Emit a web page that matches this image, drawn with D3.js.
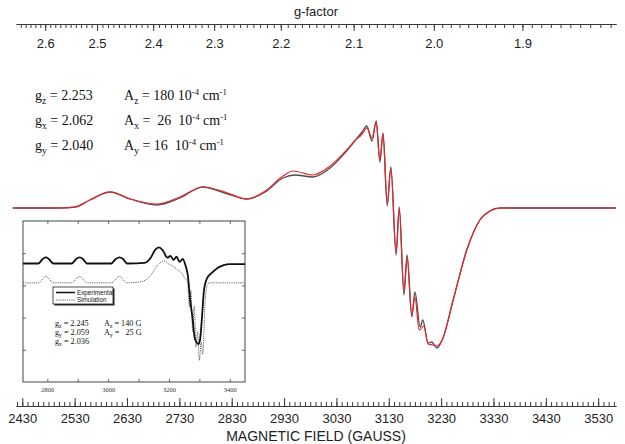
<!DOCTYPE html>
<html><head><meta charset="utf-8">
<script src="https://cdn.jsdelivr.net/npm/d3@7"></script>
<style>
body{margin:0;background:#fff}
svg{display:block}
text{white-space:pre}
</style>
</head><body>
<script>
// ---------- data ----------
const G_TIMES_B = 6432; // g * B(G) at ~9.0 GHz
const fieldTicks = [2430,2530,2630,2730,2830,2930,3030,3130,3230,3330,3430,3530];
const gTicks = [2.6,2.5,2.4,2.3,2.2,2.1,2.0,1.9];

const fieldExp  = [2412,2502,2531,2559,2598,2636,2687,2731,2775,2817,2859,2894,2928,2951,2985,3018,3046,3065,3079,3088,3098,3106,3113,3119,3127,3134,3144,3150,3159,3165,3174,3180,3190,3195,3205,3212,3222,3232,3253,3279,3304,3323,3342,3564];
const signalExp = [0,0,0.01,0.08,0.16,0.09,0.03,0.10,0.21,0.15,0.09,0.16,0.30,0.33,0.31,0.40,0.55,0.67,0.76,0.82,0.67,0.87,0.46,0.75,0.02,0.41,-0.47,0.01,-0.87,-0.47,-1.09,-0.84,-1.19,-1.12,-1.35,-1.34,-1.40,-1.32,-0.92,-0.42,-0.12,-0.03,0,0];
const fieldSim  = [2412,2502,2531,2559,2598,2636,2687,2731,2775,2817,2859,2894,2928,2947,2985,3018,3046,3065,3079,3088,3098,3106,3113,3119,3127,3134,3144,3150,3159,3165,3174,3180,3188,3197,3205,3214,3222,3232,3253,3279,3304,3323,3342,3564];
const signalSim = [0,0,0.01,0.08,0.16,0.09,0.04,0.11,0.21,0.16,0.09,0.17,0.32,0.37,0.33,0.42,0.56,0.67,0.74,0.80,0.70,0.86,0.48,0.74,0.05,0.40,-0.44,-0.01,-0.82,-0.50,-1.07,-0.89,-1.22,-1.18,-1.36,-1.37,-1.38,-1.32,-0.92,-0.42,-0.12,-0.03,0,0];

const paramG = [["g","z"," = 2.253"],["g","x"," = 2.062"],["g","y"," = 2.040"]];
const paramA = [["A","z"," = 180 10","-4"," cm","-1"],["A","x"," =  26  10","-4"," cm","-1"],["A","y"," = 16  10","-4"," cm","-1"]];

// inset
const insetTicks = [2800,2900,3000,3100,3200,3300,3400];
const insetTickLabels = [2800,3000,3200,3400];
const insetFieldExp  = [2720,2770,2785,2795,2805,2820,2880,2895,2906,2917,2930,3010,3025,3037,3049,3062,3120,3140,3155,3167,3180,3195,3205,3215,3225,3235,3245,3255,3262,3270,3278,3284,3290,3297,3302,3308,3315,3325,3340,3360,3380,3400,3450];
const insetSignalExp = [0,0,0.14,0.19,0.14,0,0,0.14,0.19,0.14,0,0,0.14,0.19,0.14,0,0.02,0.18,0.43,0.50,0.40,0.18,0.24,0.11,0.21,0.05,0.14,-0.08,-0.37,-1.16,-1.74,-2.28,-2.44,-2.50,-2.38,-1.74,-0.84,-0.46,-0.30,-0.14,-0.05,-0.02,-0.02];
const insetFieldSim  = [2720,2770,2795,2820,2880,2906,2930,3010,3037,3062,3110,3140,3160,3183,3200,3217,3230,3239,3250,3261,3267,3272,3278,3283,3289,3294,3300,3306,3311,3319,3326,3333,3450];
const insetSignalSim = [-0.60,-0.60,-0.40,-0.60,-0.60,-0.40,-0.60,-0.60,-0.40,-0.60,-0.56,-0.37,-0.08,0.08,-0.02,-0.11,-0.21,-0.27,-0.43,-0.59,-1.35,-0.84,-2.12,-1.32,-2.60,-2.12,-3.01,-2.44,-2.82,-1.16,-0.68,-0.60,-0.60];
const insetLegend = ["Experimental","Simulation"];
const insetParams = [["g","z"," = 2.245","A","z"," = 140 G"],["g","y"," = 2.059","A","y"," =   25 G"],["g","x"," = 2.036"]];

// ---------- drawing ----------
const W = 625, H = 444;
const svg = d3.select("body").append("svg").attr("width", W).attr("height", H);

const x = d3.scaleLinear().domain([2418, 3564]).range([16, 616]);
const gScale = d3.scalePow().exponent(-1).domain([G_TIMES_B/2418, G_TIMES_B/3564]).range([16, 616]);
const y = d3.scaleLinear().domain([-1.5, 1.0]).range([358, 108]);

const axisColor = "#3a3a3a";
function styleAxis(g, fs){
  g.selectAll(".domain").attr("stroke", axisColor).attr("stroke-width", 1);
  g.selectAll(".tick line").attr("stroke", axisColor).attr("stroke-width", 1);
  g.selectAll(".tick text").attr("font-family", "Liberation Sans, Arial, sans-serif").attr("font-size", fs).attr("fill", "#222");
}

// top g-factor axis (ticks pointing down)
const topY = 24;
const gMinor = d3.range(181, 266).map(d => d/100);
svg.append("g").attr("transform", `translate(0,${topY})`)
  .call(d3.axisBottom(gScale).tickValues(gMinor).tickSize(4).tickSizeOuter(0).tickFormat(""))
  .call(g => styleAxis(g, 13));
svg.append("g").attr("transform", `translate(0,${topY})`)
  .call(d3.axisBottom(gScale).tickValues(gTicks).tickSize(7).tickSizeOuter(0).tickPadding(8).tickFormat(d3.format(".1f")))
  .call(g => styleAxis(g, 13));
svg.append("text").attr("x", 316).attr("y", 16).attr("text-anchor", "middle")
  .attr("font-family", "Liberation Sans, Arial, sans-serif").attr("font-size", 13).attr("fill", "#222").text("g-factor");

// bottom field axis (ticks pointing up)
const botY = 406;
const fieldMinor = d3.range(2420, 3561, 10);
svg.append("g").attr("transform", `translate(0,${botY})`)
  .call(d3.axisTop(x).tickValues(fieldMinor).tickSize(4).tickSizeOuter(0).tickFormat(""))
  .call(g => styleAxis(g, 13));
svg.append("g").attr("transform", `translate(0,${botY})`)
  .call(d3.axisTop(x).tickValues(fieldTicks).tickSize(8).tickSizeOuter(0).tickFormat(""))
  .call(g => styleAxis(g, 13));
svg.append("g").attr("transform", `translate(0,${botY})`)
  .call(d3.axisBottom(x).tickValues(fieldTicks).tickSize(0).tickPadding(8).tickFormat(d3.format("d")))
  .call(g => { g.select(".domain").remove(); styleAxis(g, 13); });
svg.append("text").attr("x", 316).attr("y", 441).attr("text-anchor", "middle")
  .attr("font-family", "Liberation Sans, Arial, sans-serif").attr("font-size", 14).attr("fill", "#222").text("MAGNETIC FIELD (GAUSS)");

// spectra
const line = d3.line().x(d => x(d[0])).y(d => y(d[1])).curve(d3.curveMonotoneX);
svg.append("path").datum(d3.zip(fieldExp, signalExp)).attr("d", line)
  .attr("fill", "none").attr("stroke", "#4d4d4d").attr("stroke-width", 1.3);
svg.append("path").datum(d3.zip(fieldSim, signalSim)).attr("d", line)
  .attr("fill", "none").attr("stroke", "#e8262b").attr("stroke-width", 1.2);

// parameter annotation
const serif = "Liberation Serif, Times New Roman, serif";
function addSubText(parent, parts, x0, y0, fs){
  const t = parent.append("text").attr("x", x0).attr("y", y0).attr("font-family", serif).attr("font-size", fs).attr("fill", "#111");
  const sh = fs*0.28;
  t.append("tspan").text(parts[0]);
  t.append("tspan").attr("font-size", fs*0.68).attr("dy", sh).text(parts[1]);
  t.append("tspan").attr("dy", -sh).text(parts[2]);
  if (parts.length > 3){
    const up = fs*0.38;
    t.append("tspan").attr("font-size", fs*0.62).attr("dy", -up).text(parts[3]);
    t.append("tspan").attr("dy", up).text(parts[4]);
    t.append("tspan").attr("font-size", fs*0.62).attr("dy", -up).text(parts[5]);
  }
  return t;
}
const rowY = [100, 125, 150];
paramG.forEach((p, i) => addSubText(svg, p, 35, rowY[i], 14));
paramA.forEach((p, i) => addSubText(svg, p, 124, rowY[i], 14));

// ---------- inset ----------
const ix0 = 23, ix1 = 245, iy0 = 221, iy1 = 382;
const xi = d3.scaleLinear().domain([2720, 3450]).range([ix0, ix1]);
const yi = d3.scaleLinear().domain([-3.68, 1.32]).range([iy1, iy0]);
const inset = svg.append("g");
inset.append("rect").attr("x", ix0).attr("y", iy0).attr("width", ix1-ix0).attr("height", iy1-iy0)
  .attr("fill", "#fff").attr("stroke", "#444").attr("stroke-width", 1);
const yTickVals = d3.range(1, 5).map(i => yi.domain()[0] + i*(yi.domain()[1]-yi.domain()[0])/5);
function styleInset(g){ g.select(".domain").remove(); g.selectAll(".tick line").attr("stroke", "#444").attr("stroke-width", 0.8); }
inset.append("g").attr("transform", `translate(0,${iy1})`).call(d3.axisTop(xi).tickValues(insetTicks).tickSize(3).tickFormat("")).call(styleInset);
inset.append("g").attr("transform", `translate(0,${iy0})`).call(d3.axisBottom(xi).tickValues(insetTicks).tickSize(3).tickFormat("")).call(styleInset);
inset.append("g").attr("transform", `translate(${ix0},0)`).call(d3.axisRight(yi).tickValues(yTickVals).tickSize(3).tickFormat("")).call(styleInset);
inset.append("g").attr("transform", `translate(${ix1},0)`).call(d3.axisLeft(yi).tickValues(yTickVals).tickSize(3).tickFormat("")).call(styleInset);
inset.append("g").attr("transform", `translate(0,${iy1})`)
  .call(d3.axisBottom(xi).tickValues(insetTickLabels).tickSize(0).tickPadding(5).tickFormat(d3.format("d")))
  .call(g => { g.select(".domain").remove(); g.selectAll("text").attr("font-family", serif).attr("font-size", 6.5).attr("fill", "#333"); });

const lineI = d3.line().x(d => xi(d[0])).y(d => yi(d[1])).curve(d3.curveMonotoneX);
inset.append("path").datum(d3.zip(insetFieldSim, insetSignalSim)).attr("d", lineI)
  .attr("fill", "none").attr("stroke", "#555").attr("stroke-width", 0.9).attr("stroke-dasharray", "1.2,1");
inset.append("path").datum(d3.zip(insetFieldExp, insetSignalExp)).attr("d", lineI)
  .attr("fill", "none").attr("stroke", "#111").attr("stroke-width", 1.8);

// legend
const lx = 53, ly = 287, lw = 60, lh = 17;
inset.append("rect").attr("x", lx+1.5).attr("y", ly+1.5).attr("width", lw).attr("height", lh).attr("fill", "#222");
inset.append("rect").attr("x", lx).attr("y", ly).attr("width", lw).attr("height", lh).attr("fill", "#fff").attr("stroke", "#222").attr("stroke-width", 0.8);
const legY = [292.5, 300];
inset.append("line").attr("x1", lx+3).attr("x2", lx+22).attr("y1", legY[0]).attr("y2", legY[0]).attr("stroke", "#111").attr("stroke-width", 1.5);
inset.append("line").attr("x1", lx+3).attr("x2", lx+22).attr("y1", legY[1]).attr("y2", legY[1]).attr("stroke", "#555").attr("stroke-width", 0.9).attr("stroke-dasharray", "1.2,1");
insetLegend.forEach((t, i) => inset.append("text").attr("x", lx+24).attr("y", legY[i]+2.2)
  .attr("font-family", "Liberation Sans, Arial, sans-serif").attr("font-size", 6.3).attr("fill", "#111").text(t));

// inset parameters
const ipY = [326, 335, 344];
insetParams.forEach((p, i) => {
  addSubText(inset, p.slice(0,3), 55, ipY[i], 8.2);
  if (p.length > 3) addSubText(inset, p.slice(3,6), 104, ipY[i], 8.2);
});
</script>
</body></html>
